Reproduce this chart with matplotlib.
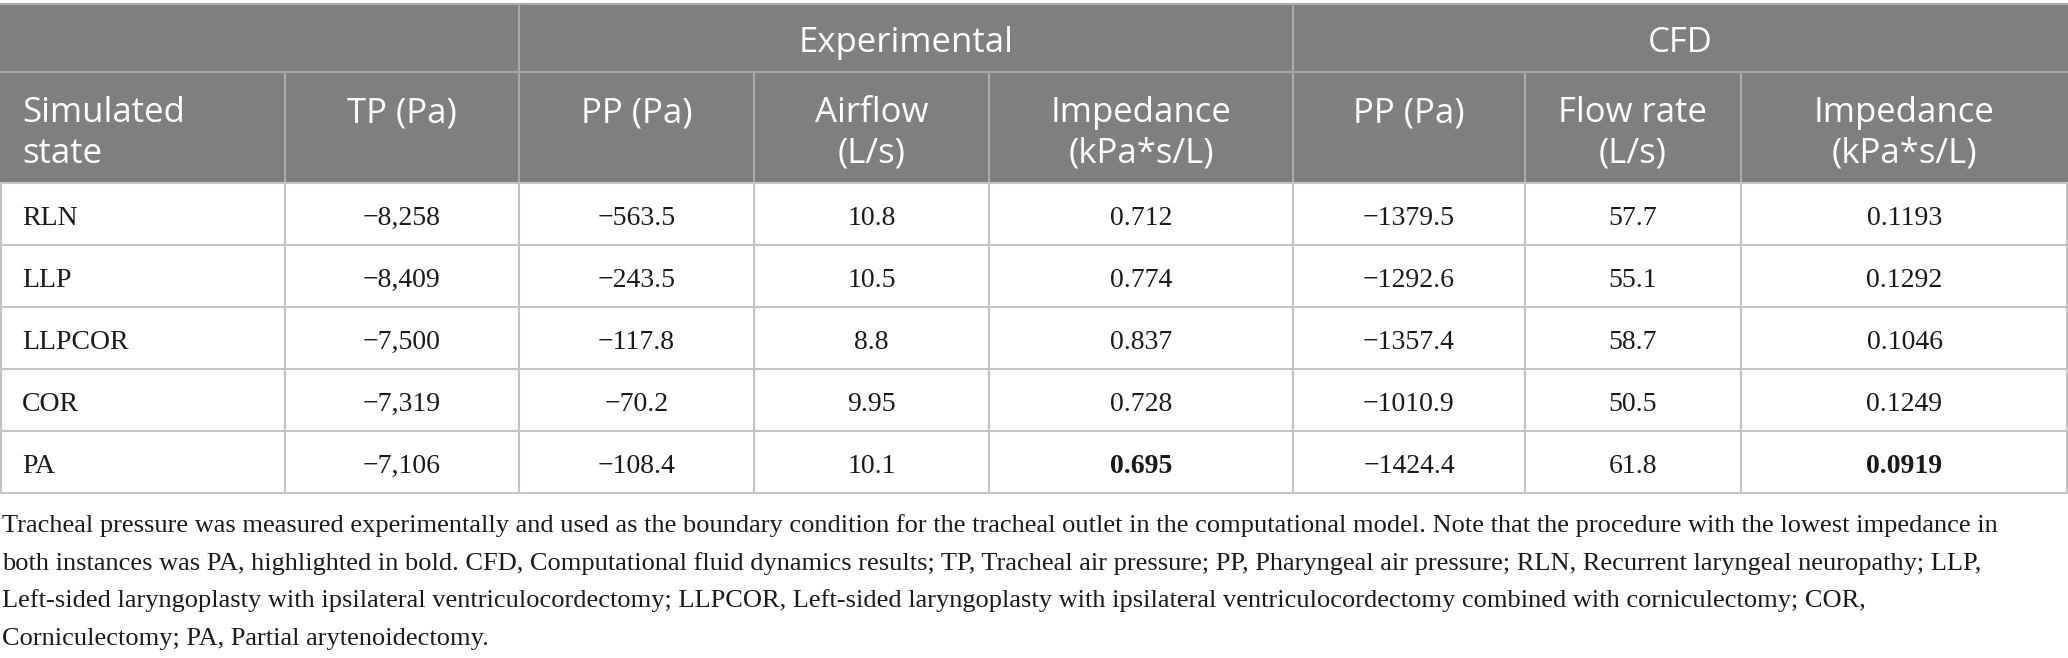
import matplotlib.pyplot as plt
from matplotlib.patches import Rectangle

# table values
states = ['RLN', 'LLP', 'LLPCOR', 'COR', 'PA']
tp_pa = [-8258, -8409, -7500, -7319, -7106]
exp_pp = [-563.5, -243.5, -117.8, -70.2, -108.4]
exp_airflow = [10.8, 10.5, 8.8, 9.95, 10.1]
exp_impedance = [0.712, 0.774, 0.837, 0.728, 0.695]
cfd_pp = [-1379.5, -1292.6, -1357.4, -1010.9, -1424.4]
cfd_flow = [57.7, 55.1, 58.7, 50.5, 61.8]
cfd_impedance = [0.1193, 0.1292, 0.1046, 0.1249, 0.0919]

group_labels = ['', 'Experimental', 'CFD']
col_labels = [['Simulated', 'state'], ['TP (Pa)'], ['PP (Pa)'], ['Airflow', '(L/s)'],
              ['Impedance', '(kPa*s/L)'], ['PP (Pa)'], ['Flow rate', '(L/s)'],
              ['Impedance', '(kPa*s/L)']]

footnote = [
    'Tracheal pressure was measured experimentally and used as the boundary condition for the tracheal outlet in the computational model. Note that the procedure with the lowest impedance in',
    'both instances was PA, highlighted in bold. CFD, Computational fluid dynamics results; TP, Tracheal air pressure; PP, Pharyngeal air pressure; RLN, Recurrent laryngeal neuropathy; LLP,',
    'Left-sided laryngoplasty with ipsilateral ventriculocordectomy; LLPCOR, Left-sided laryngoplasty with ipsilateral ventriculocordectomy combined with corniculectomy; COR,',
    'Corniculectomy; PA, Partial arytenoidectomy.',
]


def fmt(v, spec):
    return format(v, spec).replace('-', '\u2212')


columns = [
    [fmt(v, ',.0f') for v in tp_pa],
    [fmt(v, '.1f') for v in exp_pp],
    [fmt(v, 'g') for v in exp_airflow],
    [fmt(v, '.3f') for v in exp_impedance],
    [fmt(v, '.1f') for v in cfd_pp],
    [fmt(v, '.1f') for v in cfd_flow],
    [fmt(v, '.4f') for v in cfd_impedance],
]
# lowest impedance gets bold
bold_cells = {(3, exp_impedance.index(min(exp_impedance))),
              (6, cfd_impedance.index(min(cfd_impedance)))}

W, H = 2068, 658
fig = plt.figure(figsize=(W / 100, H / 100), dpi=100)
ax = fig.add_axes([0, 0, 1, 1])
ax.set_xlim(0, W)
ax.set_ylim(H, 0)
ax.axis('off')

head_bg = '#7f7f7f'
head_line = '#a9a9a9'
body_line = '#c4c4c4'
sans = 'Open Sans'
serif = 'Liberation Serif'

x_edges = [0, 285, 519, 754, 989, 1293, 1525, 1741, W]
group_edges = [0, 519, 1293, W]
top, h1, h2 = 4, 72, 183
row_h = 62
y_rows = [h2 + i * row_h for i in range(len(states) + 1)]

# header background
ax.add_patch(Rectangle((0, top), W, h2 - top, color=head_bg, lw=0))
ax.plot([0, W], [top, top], color=head_line, lw=1.5)
ax.plot([0, W], [h1, h1], color=head_line, lw=1.5)
for x in group_edges[1:-1]:
    ax.plot([x, x], [top, h1], color=head_line, lw=1.5)
for x in x_edges[1:-1]:
    ax.plot([x, x], [h1, h2], color=head_line, lw=1.5)

for i, g in enumerate(group_labels):
    if g:
        cx = (group_edges[i] + group_edges[i + 1]) / 2
        ax.text(cx, 52, g, color='white', fontsize=25, family=sans,
                ha='center', va='baseline')

for j, lines in enumerate(col_labels):
    if j == 0:
        x, ha = 22, 'left'
    else:
        x, ha = (x_edges[j] + x_edges[j + 1]) / 2, 'center'
    for k, line in enumerate(lines):
        ax.text(x, 122 + 41 * k, line, color='white', fontsize=25, family=sans,
                ha=ha, va='baseline')

# body grid
for y in y_rows:
    ax.plot([0, W], [y, y], color=body_line, lw=1.5)
for x in x_edges:
    xx = min(max(x, 0.7), W - 0.7)
    ax.plot([xx, xx], [h2, y_rows[-1]], color=body_line, lw=1.5)

for i, s in enumerate(states):
    base = y_rows[i] + 42
    ax.text(22, base, s, fontsize=20, family=serif, color='#1a1a1a',
            ha='left', va='baseline')
    for j, col in enumerate(columns):
        cx = (x_edges[j + 1] + x_edges[j + 2]) / 2
        weight = 'bold' if (j, i) in bold_cells else 'normal'
        ax.text(cx, base, col[i], fontsize=20, family=serif, color='#1a1a1a',
                ha='center', va='baseline', fontweight=weight)

# footnote
for k, line in enumerate(footnote):
    ax.text(2, 532 + 37.7 * k, line, fontsize=19, family=serif, color='#1a1a1a',
            ha='left', va='baseline')

fig.savefig('out.png', dpi=100)
